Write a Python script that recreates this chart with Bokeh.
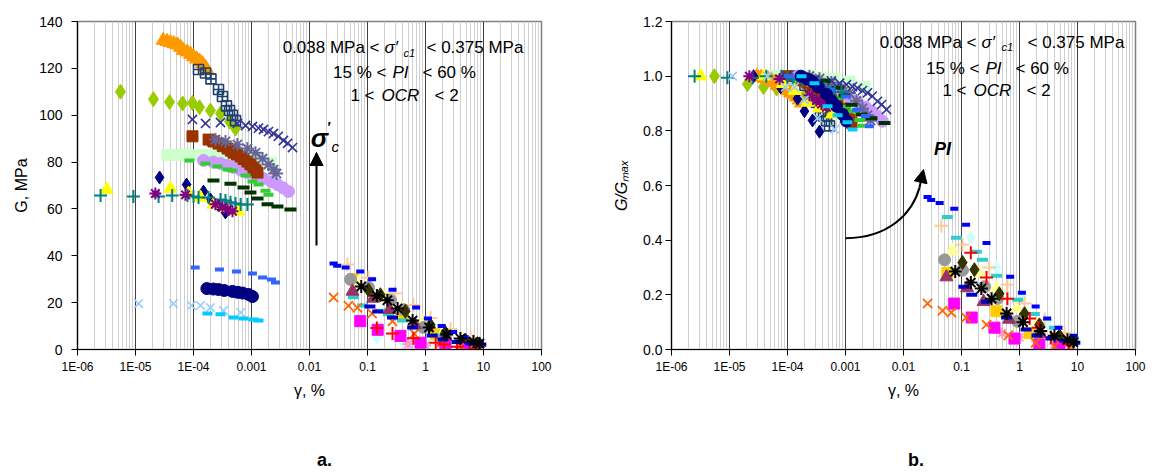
import math
from bokeh.plotting import figure
from bokeh.layouts import row
from bokeh.models import FixedTicker, CustomJSTickFormatter, Label, Arrow, NormalHead, LogAxis
from bokeh.embed import file_html
from bokeh.resources import INLINE

FONT = "Liberation Sans"

# ---------------- axis ticks / labels ----------------
x_ticks = [1e-6, 1e-5, 1e-4, 1e-3, 1e-2, 1e-1, 1.0, 10.0, 100.0]
x_tick_labels = ["1E-06", "1E-05", "1E-04", "0.001", "0.01", "0.1", "1", "10", "100"]
g_ticks = [0, 20, 40, 60, 80, 100, 120, 140]
g_tick_labels = ["0", "20", "40", "60", "80", "100", "120", "140"]
r_ticks = [0.0, 0.2, 0.4, 0.6, 0.8, 1.0, 1.2]
r_tick_labels = ["0.0", "0.2", "0.4", "0.6", "0.8", "1.0", "1.2"]

# ---------------- small-strain series (gamma %, G MPa, G/Gmax) ----------------
orng_gam = [3.0e-5, 3.5e-5, 4.0e-5, 4.6e-5, 5.3e-5, 6.0e-5, 6.7e-5, 7.8e-5, 8.9e-5, 1.0e-4, 1.13e-4, 1.28e-4, 1.43e-4, 1.6e-4, 1.74e-4]
orng_G = [132, 131.5, 131, 130.5, 130, 129, 127.6, 127, 126, 125, 124, 123, 122, 120.5, 119]
orng_R = [1.0, 0.996, 0.992, 0.989, 0.985, 0.977, 0.967, 0.962, 0.955, 0.947, 0.939, 0.932, 0.924, 0.913, 0.902]

dnav_gam = [1.22e-4, 1.61e-4, 2.0e-4, 2.7e-4, 3.16e-4, 3.7e-4, 4.18e-4, 4.7e-4, 5.3e-4]
dnav_G = [119.5, 118, 115.5, 111, 108, 104, 102, 100, 97.7]
dnav_R = [1.0, 0.987, 0.967, 0.929, 0.904, 0.87, 0.854, 0.837, 0.818]

ygd_gam = [5.5e-6, 2.04e-5, 3.86e-5, 6.5e-5, 9.6e-5, 1.27e-4, 1.96e-4, 2.92e-4, 4.18e-4, 5.3e-4]
ygd_G = [110, 106.8, 105.6, 105, 105.2, 103.4, 102, 100.7, 97.3, 94.3]
ygd_R = [1.0, 0.971, 0.96, 0.955, 0.956, 0.94, 0.927, 0.915, 0.885, 0.857]

sbx_gam = [9.6e-5, 1.61e-4, 2.92e-4, 5.7e-4, 7.9e-4, 1.04e-3, 1.32e-3, 1.61e-3, 1.96e-3, 2.39e-3, 2.9e-3, 3.56e-3, 4.2e-3, 5.1e-3]
sbx_G = [98.2, 96.5, 96.9, 96.5, 95.6, 95.2, 94.5, 93.9, 93.0, 92.2, 91.0, 89.2, 88.0, 86.2]
sbx_R = [1.0, 0.983, 0.987, 0.983, 0.974, 0.969, 0.962, 0.956, 0.947, 0.939, 0.927, 0.908, 0.896, 0.878]

brn_gam = [9.6e-5, 1.82e-4, 2.2e-4, 2.7e-4, 3.2e-4, 3.86e-4, 4.4e-4, 4.9e-4, 5.6e-4, 6.5e-4, 7.3e-4, 8.5e-4, 9.6e-4, 1.08e-3, 1.17e-3, 1.27e-3]
brn_G = [91, 89.6, 88.8, 87.9, 86.8, 85.8, 84.9, 84, 83.2, 82.4, 81.3, 80.2, 79, 77.7, 76.5, 75.5]
brn_R = [1.0, 0.985, 0.976, 0.966, 0.954, 0.943, 0.933, 0.923, 0.914, 0.905, 0.893, 0.881, 0.868, 0.854, 0.841, 0.83]

sla_gam = [2.39e-4, 3.56e-4, 5.7e-4, 8.5e-4, 1.17e-3, 1.55e-3, 1.96e-3, 2.39e-3, 2.7e-3]
sla_G = [89.6, 88.8, 87.5, 85.8, 84.0, 81.5, 79.0, 76.8, 75.1]
sla_R = [1.0, 0.991, 0.977, 0.958, 0.938, 0.91, 0.882, 0.857, 0.838]

lgs_gam = [3.56e-5, 5.3e-5, 7.9e-5, 1.17e-4, 1.74e-4, 2.59e-4, 3.86e-4, 6.5e-4, 1.17e-3, 2.13e-3]
lgs_G = [83, 83, 83, 83, 83, 83, 82.6, 82.2, 81.3, 79.7]
lgs_R = [1.0, 1.0, 1.0, 1.0, 1.0, 1.0, 0.995, 0.99, 0.98, 0.96]

lav_gam = [1.49e-4, 2.2e-4, 2.92e-4, 3.8e-4, 4.9e-4, 6.5e-4, 8.5e-4, 1.2e-3, 1.61e-3, 2.2e-3, 2.8e-3, 3.5e-3, 4.34e-3]
lav_G = [80.7, 80.0, 79.4, 78.6, 77.7, 76.6, 75.5, 74.2, 73.0, 71.6, 70.4, 69.0, 67.4]
lav_R = [1.0, 0.991, 0.984, 0.974, 0.963, 0.949, 0.936, 0.919, 0.905, 0.887, 0.872, 0.855, 0.835]

grd_gam = [8.5e-5, 1.61e-4, 2.59e-4, 3.86e-4, 4.7e-4, 7.9e-4, 1.04e-3, 1.32e-3, 1.74e-3, 1.96e-3]
grd_G = [80.7, 79.4, 78.1, 76.8, 76.4, 74.3, 71.7, 70.4, 67.8, 66.1]
grd_R = [1.0, 0.984, 0.968, 0.952, 0.947, 0.921, 0.888, 0.872, 0.84, 0.819]

dgd_gam = [2.21e-4, 4.34e-4, 7.3e-4, 9.6e-4, 1.27e-3, 1.89e-3, 2.8e-3, 4.7e-3]
dgd_G = [72.1, 70.8, 69.1, 67.0, 64.5, 62.0, 61.0, 59.8]
dgd_R = [1.0, 0.982, 0.958, 0.929, 0.895, 0.86, 0.846, 0.829]

nvd_gam = [2.6e-5, 7.6e-5, 1.49e-4, 1.96e-4, 2.7e-4, 3.56e-4]
nvd_G = [73.4, 70.4, 67.4, 64.0, 61.5, 58.5]
nvd_R = [1.0, 0.959, 0.918, 0.872, 0.838, 0.797]

ylt_gam = [3.2e-6, 4.0e-5, 8.2e-5, 1.32e-4, 2.21e-4, 3.5e-4, 5.9e-4]
ylt_G = [68.3, 68.7, 66.6, 64.9, 61.9, 60.5, 59.0]
ylt_R = [1.0, 1.0, 0.972, 0.947, 0.904, 0.883, 0.861]

tlp_gam = [2.5e-6, 9.2e-6, 2.5e-5, 4.3e-5, 7.9e-5, 1.0e-4, 1.22e-4, 1.82e-4, 2.92e-4, 3.56e-4, 4.34e-4, 5.3e-4, 6.5e-4, 8.5e-4]
tlp_G = [65.7, 65.3, 65.3, 65.7, 65.7, 65.3, 64.9, 64.9, 64.0, 63.6, 62.8, 62.3, 61.9, 61.9]
tlp_R = [1.0, 0.994, 0.994, 1.0, 1.0, 0.994, 0.988, 0.988, 0.974, 0.968, 0.956, 0.948, 0.942, 0.942]

pra_gam = [2.2e-5, 7.3e-5, 2.39e-4, 3.16e-4, 3.86e-4, 4.7e-4]
pra_G = [66.6, 66.0, 62.0, 60.7, 59.8, 59.0]
pra_R = [1.0, 0.99, 0.93, 0.911, 0.898, 0.886]

bld_gam = [1.07e-4, 2.8e-4, 5.5e-4, 1.04e-3, 1.55e-3, 2.21e-3, 2.59e-3]
bld_G = [35.0, 34.1, 33.3, 32.4, 30.7, 29.9, 28.6]
bld_R = [1.0, 0.974, 0.951, 0.926, 0.877, 0.854, 0.817]

nvc_gam = [1.7e-4, 2.2e-4, 2.7e-4, 3.4e-4, 4.7e-4, 5.8e-4, 7.0e-4, 8.9e-4, 1.04e-3]
nvc_G = [26.0, 25.8, 25.6, 25.2, 24.8, 24.4, 24.1, 23.5, 22.6]
nvc_R = [1.0, 0.99, 0.98, 0.96, 0.934, 0.91, 0.89, 0.86, 0.836]

lbx_gam = [1.13e-5, 4.5e-5, 9.2e-5, 1.32e-4, 1.96e-4, 3.3e-4, 6.5e-4]
lbx_G = [19.6, 19.6, 18.8, 18.8, 17.9, 16.6, 15.8]
lbx_R = [1.0, 1.0, 0.96, 0.96, 0.913, 0.847, 0.806]

cyd_gam = [1.74e-4, 2.92e-4, 4.9e-4, 7.3e-4, 1.08e-3, 1.32e-3]
cyd_G = [15.4, 15.0, 13.7, 13.2, 12.8, 12.4]
cyd_R = [1.0, 0.974, 0.89, 0.857, 0.831, 0.805]

# ---------------- large-strain series ----------------
bl2_gam = [0.026, 0.03, 0.042, 0.075, 0.12, 0.27, 0.69, 1.1, 1.9, 3.0, 4.7, 8.5]
bl2_G = [36.7, 35.8, 35.0, 33.3, 30.0, 25.5, 17.9, 13.2, 10.0, 7.5, 5.3, 3.3]
bl2_R = [0.558, 0.547, 0.536, 0.515, 0.456, 0.39, 0.266, 0.208, 0.157, 0.113, 0.08, 0.05]

tq_gam = [0.057, 0.082, 0.18, 0.23, 0.4, 0.93, 1.8, 4.0, 8.5]
tq_G = [22.3, 18.8, 16.5, 15.0, 12.4, 8.4, 6.0, 3.7, 1.8]
tq_R = [0.485, 0.409, 0.358, 0.328, 0.27, 0.182, 0.13, 0.08, 0.04]

pch_gam = [0.045, 0.104, 0.3, 0.62, 1.22, 2.7, 6.0]
pch_G = [36.3, 30.6, 24.0, 19.0, 13.4, 8.8, 4.8]
pch_R = [0.453, 0.383, 0.30, 0.237, 0.168, 0.11, 0.06]

gry_gam = [0.051, 0.104, 0.25, 0.42, 0.93, 2.2, 5.0]
gry_G = [29.9, 26.5, 21.0, 17.0, 9.4, 5.0, 2.5]
gry_R = [0.328, 0.29, 0.23, 0.187, 0.103, 0.055, 0.027]

blk_gam = [0.078, 0.145, 0.22, 0.33, 0.6, 1.15, 2.3, 4.0, 6.7, 8.5]
blk_G = [26.9, 23.0, 21.0, 17.5, 12.4, 9.4, 6.4, 4.7, 3.4, 2.5]
blk_R = [0.285, 0.245, 0.223, 0.186, 0.132, 0.10, 0.068, 0.05, 0.036, 0.027]

olv_gam = [0.104, 0.167, 0.45, 1.22, 2.2, 4.9, 8.5]
olv_G = [25.4, 23.4, 16.3, 10.5, 7.2, 4.0, 2.4]
olv_R = [0.318, 0.292, 0.204, 0.131, 0.09, 0.05, 0.03]

mrn_gam = [0.055, 0.125, 0.24, 0.66, 2.2]
mrn_G = [24.8, 21.8, 17.0, 10.5, 5.5]
mrn_R = [0.265, 0.225, 0.175, 0.11, 0.06]

orx_gam = [0.026, 0.047, 0.067, 0.12, 0.27, 0.64, 1.9, 4.0, 7.3]
orx_G = [22.2, 18.7, 17.8, 15.4, 12.0, 6.7, 3.3, 1.5, 0.9]
orx_R = [0.168, 0.142, 0.135, 0.117, 0.091, 0.051, 0.025, 0.011, 0.007]

mag_gam = [0.075, 0.15, 0.37, 0.82, 2.2, 4.9]
mag_G = [12.1, 8.4, 5.8, 2.9, 1.3, 0.7]
mag_R = [0.168, 0.117, 0.08, 0.04, 0.018, 0.01]

red_gam = [0.145, 0.27, 0.62, 1.5, 2.1, 3.5, 7.0]
red_G = [9.2, 6.8, 4.8, 2.9, 2.1, 1.2, 0.5]
red_R = [0.354, 0.263, 0.186, 0.113, 0.08, 0.045, 0.02]

dbd_gam = [0.11, 0.15, 0.27, 0.6, 1.3, 2.0, 3.5, 6.0, 9.0]
dbd_G = [18.4, 16.2, 13.7, 9.4, 6.0, 4.3, 3.2, 2.6, 2.0]
dbd_R = [0.23, 0.20, 0.175, 0.117, 0.073, 0.051, 0.04, 0.033, 0.025]

lyt_gam = [0.07, 0.2, 0.4, 0.9, 2.0, 4.5]
lyt_G = [28.6, 22.0, 17.5, 12.0, 7.0, 4.0]
lyt_R = [0.361, 0.28, 0.222, 0.15, 0.09, 0.05]

lcd_gam = [0.145, 0.4, 1.1, 3.0]
lcd_G = [5.2, 3.8, 2.4, 1.3]
lcd_R = [0.409, 0.30, 0.19, 0.10]

gld_gam = [0.057, 0.4, 1.5]
gld_G = [30.0, 15.0, 6.5]
gld_R = [0.28, 0.14, 0.06]

pnk_gam = [0.5, 1.0, 2.0, 4.0, 8.0]
pnk_G = [2.2, 1.7, 1.2, 0.8, 0.5]
pnk_R = [0.06, 0.045, 0.03, 0.02, 0.012]

# (gamma, G, ratio, marker, color, size, line_width, filled)
SERIES = [
    (lgs_gam, lgs_G, lgs_R, "square", "#CCFFCC", 11, 1, True),
    (ygd_gam, ygd_G, ygd_R, "diamond", "#99CC00", 15, 1, True),
    (orng_gam, orng_G, orng_R, "triangle", "#FF9900", 14, 1, True),
    (dnav_gam, dnav_G, dnav_R, "square_cross", "#1F3F6F", 10, 1.6, False),
    (lav_gam, lav_G, lav_R, "circle", "#CC99FF", 12, 1, True),
    (brn_gam, brn_G, brn_R, "square", "#993300", 11, 1, True),
    (sla_gam, sla_G, sla_R, "asterisk", "#666699", 13, 2, False),
    (sbx_gam, sbx_G, sbx_R, "x", "#333399", 13, 1.6, False),
    (grd_gam, grd_G, grd_R, "dash", "#33CC33", 10, 4, False),
    (dgd_gam, dgd_G, dgd_R, "dash", "#003300", 12, 4, False),
    (nvd_gam, nvd_G, nvd_R, "diamond", "#000080", 13, 1, True),
    (ylt_gam, ylt_G, ylt_R, "triangle", "#FFFF00", 13, 1, True),
    (tlp_gam, tlp_G, tlp_R, "cross", "#008080", 13, 2, False),
    (pra_gam, pra_G, pra_R, "asterisk", "#800080", 12, 2, False),
    (bld_gam, bld_G, bld_R, "dash", "#3366FF", 9, 4, False),
    (nvc_gam, nvc_G, nvc_R, "circle", "#000080", 12, 1, True),
    (lbx_gam, lbx_G, lbx_R, "x", "#99CCFF", 12, 1.6, False),
    (cyd_gam, cyd_G, cyd_R, "dash", "#00CCFF", 10, 4, False),
    (lcd_gam, lcd_G, lcd_R, "diamond", "#CCFFFF", 13, 1, True),
    (pnk_gam, pnk_G, pnk_R, "asterisk", "#FF99CC", 11, 2, False),
    (gld_gam, gld_G, gld_R, "square", "#FFCC00", 11, 1, True),
    (lyt_gam, lyt_G, lyt_R, "triangle", "#FFFF99", 13, 1, True),
    (tq_gam, tq_G, tq_R, "dash", "#33CCCC", 11, 4, False),
    (pch_gam, pch_G, pch_R, "cross", "#FFCC99", 14, 2, False),
    (gry_gam, gry_G, gry_R, "circle", "#999999", 12, 1, True),
    (mrn_gam, mrn_G, mrn_R, "triangle", "#993366", 13, 1, True),
    (olv_gam, olv_G, olv_R, "diamond", "#333300", 14, 1, True),
    (mag_gam, mag_G, mag_R, "square", "#FF00FF", 11, 1, True),
    (orx_gam, orx_G, orx_R, "x", "#FF6600", 13, 1.8, False),
    (red_gam, red_G, red_R, "cross", "#FF0000", 13, 2, False),
    (dbd_gam, dbd_G, dbd_R, "dash", "#0000CC", 11, 4, False),
    (bl2_gam, bl2_G, bl2_R, "dash", "#0000FF", 8, 4, False),
    (blk_gam, blk_G, blk_R, "asterisk", "#000000", 13, 2, False),
]

minor = [k * 10.0 ** e for e in range(-6, 2) for k in range(2, 10)]

FIG_H = 472


def make_fig(width, bl, br, bt, y_end, yt, ytl, standoff, ylabel, ylabel_style, ylabel_standoff, tag):
    frame_h = 349 - bt
    p = figure(width=width, height=FIG_H, x_axis_type="log", x_range=(1e-6, 100),
               y_range=(0, y_end), output_backend="svg", toolbar_location=None,
               min_border_left=bl, min_border_right=br, min_border_top=bt,
               min_border_bottom=FIG_H - bt - frame_h)
    p.background_fill_color = "white"
    p.border_fill_color = "white"
    p.outline_line_color = "#808080"
    p.outline_line_width = 1.5
    xa = p.xaxis[0]
    ya = p.yaxis[0]
    xa.ticker = FixedTicker(ticks=x_ticks, minor_ticks=minor)
    xa.formatter = CustomJSTickFormatter(args=dict(vals=x_ticks, labs=x_tick_labels), code="""
        for (let i = 0; i < vals.length; i++) {
            if (Math.abs(Math.log10(tick) - Math.log10(vals[i])) < 1e-6) return labs[i];
        }
        return "";
    """)
    ya.ticker = FixedTicker(ticks=yt)
    ya.formatter = CustomJSTickFormatter(args=dict(vals=yt, labs=ytl), code="""
        for (let i = 0; i < vals.length; i++) {
            if (Math.abs(tick - vals[i]) < 1e-9) return labs[i];
        }
        return "";
    """)
    for ax in (xa, ya):
        ax.axis_line_color = "black"
        ax.axis_line_width = 1.2
        ax.major_tick_line_color = "black"
        ax.major_tick_out = 6
        ax.major_tick_in = 0
        ax.minor_tick_line_color = None
        ax.major_label_text_font = FONT
        ax.major_label_text_color = "black"
        ax.axis_label_text_font = FONT
        ax.axis_label_text_color = "black"
        ax.axis_label_text_font_size = "16px"
    xa.major_label_text_font_size = "12px"
    xa.major_label_standoff = 4
    xa.axis_label = "\u03b3, %"
    xa.axis_label_text_font_style = "normal"
    xa.axis_label_standoff = 5
    ya.major_label_text_font_size = "14px"
    ya.major_label_standoff = standoff
    ya.axis_label = ylabel
    ya.axis_label_text_font_style = ylabel_style
    ya.axis_label_standoff = ylabel_standoff
    p.xgrid.grid_line_color = "#404040"
    p.xgrid.grid_line_width = 1
    p.xgrid.minor_grid_line_color = "#CFCFCF"
    p.xgrid.minor_grid_line_width = 1
    p.ygrid.grid_line_color = None
    # panel tag ("a." / "b.") as the label of a bare extra axis below
    tag_axis = LogAxis(ticker=FixedTicker(ticks=[]), axis_label=tag,
                       axis_line_color=None, major_tick_line_color=None,
                       minor_tick_line_color=None, major_tick_out=0, major_tick_in=0,
                       minor_tick_out=0, minor_tick_in=0, major_label_standoff=0,
                       axis_label_standoff=48, axis_label_text_font=FONT,
                       axis_label_text_font_size="18px", axis_label_text_font_style="bold",
                       axis_label_text_color="black")
    p.add_layout(tag_axis, "below")
    return p


# ---- reference-pixel -> data helpers for annotations
def c1(sx, sy):
    return 10 ** ((sx - 77) / 58.0 - 6), (349 - sy) * 140.0 / 328.0


def c2(sx, sy):
    return 10 ** ((sx - 671) / 58.0 - 6), (349 - sy) * 1.2 / 330.0


NB = "\u00a0"
p1 = make_fig(576, 77, 35, 21, 140, g_ticks, g_tick_labels, 9, "G, MPa", "normal", 6, NB * 6 + "a.")
p2 = make_fig(571, 95, 12, 19, 1.2, r_ticks, r_tick_labels, 3,
              "G/G\u2098\u2090\u2093", "italic", 10, NB * 5 + "b.")

for gam, G, R, mk, col, sz, lw, filled in SERIES:
    for p, vals in ((p1, G), (p2, R)):
        p.scatter(gam, vals, marker=mk, size=sz, line_color=col, line_width=lw,
                  fill_color=col if filled else None)


def lbl(p, conv, sx, sy, text, size, style="normal", align="left", angle=0.0, baseline="middle"):
    x, y = conv(sx, sy)
    p.add_layout(Label(x=x, y=y, text=text, text_font=FONT, text_font_size=f"{size}px",
                       text_font_style=style, text_align=align, text_baseline=baseline,
                       angle=angle, text_color="black"))


def cond_text(p, conv, y1, y2, y3, xs1, xs2, xs3):
    lbl(p, conv, xs1[0], y1, "0.038 MPa <", 17, align="right")
    lbl(p, conv, xs1[1], y1, "\u03c3\u2032", 17, style="italic")
    lbl(p, conv, xs1[2], y1 + 5, "c1", 11, style="italic")
    lbl(p, conv, xs1[3], y1, "< 0.375 MPa", 17)
    lbl(p, conv, xs2[0], y2, "15 % <", 17, align="right")
    lbl(p, conv, xs2[1], y2, "PI", 17, style="italic")
    lbl(p, conv, xs2[2], y2, "< 60 %", 17)
    lbl(p, conv, xs3[0], y3, "1 <", 17, align="right")
    lbl(p, conv, xs3[1], y3, "OCR", 17, style="italic")
    lbl(p, conv, xs3[2], y3, "< 2", 17)


cond_text(p1, c1, 47, 72, 95, (379, 384, 403, 426), (386, 392, 422), (374, 381, 434))
cond_text(p2, c2, 40, 66, 88, (976, 981, 1001, 1027), (979, 985, 1015), (966, 973, 1026))

# sigma'c arrow (panel a)
xa_, ya0 = c1(316, 245)
_, ya1 = c1(316, 152)
p1.add_layout(Arrow(x_start=xa_, y_start=ya0, x_end=xa_, y_end=ya1, line_width=2, line_color="black",
                    end=NormalHead(size=13, fill_color="black", line_color="black")))
lbl(p1, c1, 319, 137, "\u03c3", 26, style="bold italic", align="center")
lbl(p1, c1, 327, 126, "\u2032", 14, style="bold")
lbl(p1, c1, 331, 146, "c", 15, style="italic")

# PI curved arrow (panel b)
bx0, by0 = c2(845, 237)
bcx0, bcy0 = c2(888, 237)
bcx1, bcy1 = c2(912, 212)
bx1, by1 = c2(919, 186)
p2.bezier(x0=[bx0], y0=[by0], x1=[bx1], y1=[by1], cx0=[bcx0], cy0=[bcy0], cx1=[bcx1], cy1=[bcy1],
          line_color="black", line_width=2)
hx, hy = c2(923, 168)
p2.add_layout(Arrow(x_start=bx1, y_start=by1, x_end=hx, y_end=hy, line_width=2, line_color="black",
                    end=NormalHead(size=13, fill_color="black", line_color="black")))
lbl(p2, c2, 942, 147, "PI", 18, style="bold italic", align="center")

layout = row(p1, p2)
open("out.html", "w").write(file_html(layout, INLINE))
